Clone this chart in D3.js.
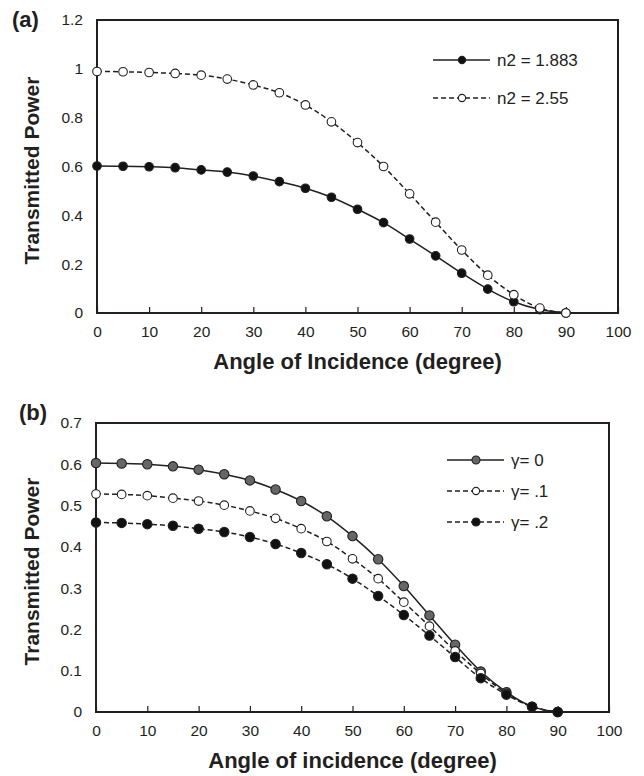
<!DOCTYPE html>
<html>
<head>
<meta charset="utf-8">
<script src="https://cdn.jsdelivr.net/npm/d3@7"></script>
<style>
  body { margin: 0; background: #fff; }
  svg { font-family: "Liberation Sans", Arial, sans-serif; }
  .tick text { font-size: 15.5px; fill: #231f20; }
  .title { font-weight: bold; font-size: 21px; fill: #231f20; }
</style>
</head>
<body>
<svg id="chart" width="644" height="776"></svg>
<script>
// Angles of incidence (degree)
const angles = [0, 5, 10, 15, 20, 25, 30, 35, 40, 45, 50, 55, 60, 65, 70, 75, 80, 85, 90];

// Panel (a)
const n2_1883 = [0.602, 0.601, 0.599, 0.595, 0.586, 0.577, 0.561, 0.538, 0.511, 0.474, 0.425, 0.370, 0.303, 0.234, 0.163, 0.098, 0.046, 0.014, 0];
const n2_255 = [0.989, 0.988, 0.985, 0.981, 0.974, 0.958, 0.934, 0.902, 0.852, 0.783, 0.698, 0.600, 0.488, 0.372, 0.258, 0.155, 0.075, 0.020, 0];

// Panel (b)
const gamma0 = [0.603, 0.602, 0.600, 0.595, 0.587, 0.576, 0.561, 0.539, 0.511, 0.474, 0.426, 0.370, 0.305, 0.234, 0.163, 0.098, 0.048, 0.013, 0];
const gamma1 = [0.528, 0.527, 0.524, 0.518, 0.511, 0.501, 0.487, 0.469, 0.444, 0.413, 0.371, 0.323, 0.266, 0.208, 0.148, 0.093, 0.045, 0.013, 0];
const gamma2 = [0.459, 0.458, 0.455, 0.451, 0.444, 0.436, 0.424, 0.407, 0.385, 0.358, 0.323, 0.281, 0.235, 0.185, 0.133, 0.082, 0.042, 0.013, 0];

const xTicks = [0, 10, 20, 30, 40, 50, 60, 70, 80, 90, 100];
const yTicksA = [0, 0.2, 0.4, 0.6, 0.8, 1, 1.2];
const yTicksB = [0, 0.1, 0.2, 0.3, 0.4, 0.5, 0.6, 0.7];

const panels = [
  {
    tag: "(a)", tagX: 12, tagY: 27,
    left: 97, right: 618, top: 20, bottom: 313,
    yMax: 1.2, yTicks: yTicksA,
    xTitle: "Angle of Incidence (degree)",
    legendX: 433, legendY: 60, legendGap: 38,
    series: [
      { name: "n2 = 1.883", values: n2_1883, dash: null, fill: "#111", r: 4.3 },
      { name: "n2 = 2.55", values: n2_255, dash: "5,3", fill: "#fff", r: 4.3 }
    ]
  },
  {
    tag: "(b)", tagX: 19, tagY: 420,
    left: 96, right: 609, top: 423, bottom: 712,
    yMax: 0.7, yTicks: yTicksB,
    xTitle: "Angle of incidence (degree)",
    legendX: 447, legendY: 460, legendGap: 31,
    series: [
      { name: "\u03b3= 0", values: gamma0, dash: null, fill: "#666", r: 4.7 },
      { name: "\u03b3= .1", values: gamma1, dash: "5,3", fill: "#fff", r: 4.3 },
      { name: "\u03b3= .2", values: gamma2, dash: "5,3", fill: "#111", r: 4.7 }
    ]
  }
];

const svg = d3.select("#chart");

panels.forEach(p => {
  const x = d3.scaleLinear().domain([0, 100]).range([p.left, p.right]);
  const y = d3.scaleLinear().domain([0, p.yMax]).range([p.bottom, p.top]);
  const g = svg.append("g");

  // frame
  g.append("rect")
    .attr("x", p.left).attr("y", p.top)
    .attr("width", p.right - p.left).attr("height", p.bottom - p.top)
    .attr("fill", "none").attr("stroke", "#231f20").attr("stroke-width", 2);

  // x axis: ticks point inward
  const xAxis = g.append("g")
    .attr("transform", `translate(0,${p.bottom})`)
    .call(d3.axisBottom(x).tickValues(xTicks).tickSize(-6).tickPadding(13).tickFormat(d3.format("d")));
  xAxis.select(".domain").remove();
  xAxis.selectAll(".tick line").attr("stroke", "#231f20").attr("stroke-width", 1.2);

  // y axis: labels only
  const yAxis = g.append("g")
    .attr("transform", `translate(${p.left},0)`)
    .call(d3.axisLeft(y).tickValues(p.yTicks).tickSize(0).tickPadding(14).tickFormat(d => String(+d.toFixed(1))));
  yAxis.select(".domain").remove();

  // axis titles
  g.append("text").attr("class", "title")
    .attr("x", (p.left + p.right) / 2).attr("y", p.bottom + 56)
    .attr("text-anchor", "middle").style("font-size", "22px").text(p.xTitle);
  g.append("text").attr("class", "title")
    .attr("transform", `translate(39,${(p.top + p.bottom) / 2 + 4}) rotate(-90)`)
    .attr("text-anchor", "middle").text("Transmitted Power");

  // panel tag
  g.append("text").attr("class", "title").style("font-size", "22px")
    .attr("x", p.tagX).attr("y", p.tagY).text(p.tag);

  const line = d3.line().x((d, i) => x(angles[i])).y(d => y(d)).curve(d3.curveMonotoneX);

  p.series.forEach(s => {
    g.append("path").datum(s.values)
      .attr("d", line)
      .attr("fill", "none").attr("stroke", "#231f20").attr("stroke-width", 1.5)
      .attr("stroke-dasharray", s.dash);
  });
  p.series.forEach(s => {
    g.selectAll(null).data(s.values).join("circle")
      .attr("cx", (d, i) => x(angles[i])).attr("cy", d => y(d))
      .attr("r", s.r)
      .attr("fill", s.fill).attr("stroke", "#231f20").attr("stroke-width", 1.1);
  });

  // legend
  p.series.forEach((s, k) => {
    const ly = p.legendY + k * p.legendGap;
    const lg = g.append("g");
    lg.append("line")
      .attr("x1", p.legendX).attr("x2", p.legendX + 57)
      .attr("y1", ly).attr("y2", ly)
      .attr("stroke", "#231f20").attr("stroke-width", 1.5)
      .attr("stroke-dasharray", s.dash);
    lg.append("circle")
      .attr("cx", p.legendX + 29).attr("cy", ly).attr("r", s.r - 0.7)
      .attr("fill", s.fill).attr("stroke", "#231f20").attr("stroke-width", 1.1);
    lg.append("text")
      .attr("x", p.legendX + 64).attr("y", ly + 6)
      .style("font-size", "17px").attr("fill", "#231f20").text(s.name);
  });
});
</script>
</body>
</html>
